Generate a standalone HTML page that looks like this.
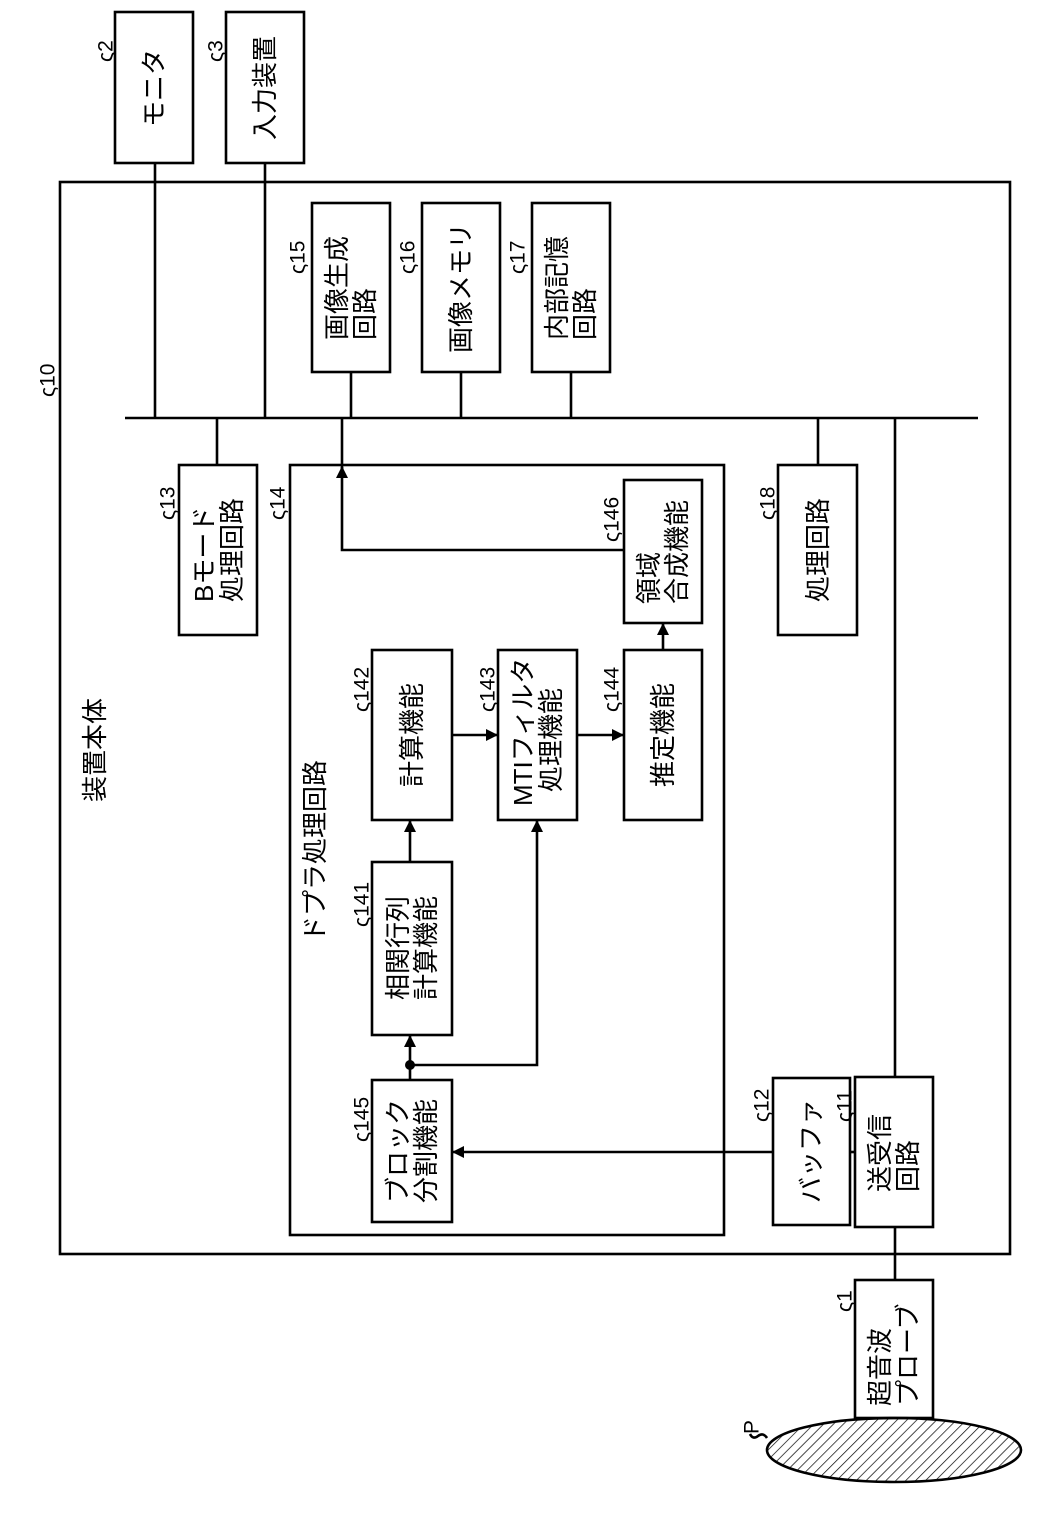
<!DOCTYPE html>
<html><head><meta charset="utf-8"><style>
html,body{margin:0;padding:0;background:#fff}
svg text{font-family:"Liberation Sans","Noto Sans CJK JP",sans-serif;fill:#000}
.t{font-size:26px}
.r{font-size:21px}
</style></head><body>
<svg width="1039" height="1512" viewBox="0 0 1039 1512" xmlns="http://www.w3.org/2000/svg">
<defs>
<marker id="a" markerWidth="12" markerHeight="12" refX="11" refY="6" orient="auto" markerUnits="userSpaceOnUse"><path d="M0,0 L12,6 L0,12 z" fill="#000"/></marker>
<pattern id="h" width="7" height="7" patternUnits="userSpaceOnUse" patternTransform="rotate(45)"><line x1="0" y1="0" x2="0" y2="7" stroke="#000" stroke-width="1.4"/></pattern>
</defs>
<g fill="none" stroke="#000" stroke-width="2.6">
<rect x="115" y="12" width="78" height="151" fill="#fff"/>
<rect x="226" y="12" width="78" height="151" fill="#fff"/>
<rect x="60" y="182" width="950" height="1072"/>
<rect x="312" y="203" width="78" height="169"/>
<rect x="422" y="203" width="78" height="169"/>
<rect x="532" y="203" width="78" height="169"/>
<rect x="179" y="465" width="78" height="170"/>
<rect x="290" y="465" width="434" height="770"/>
<rect x="778" y="465" width="79" height="170"/>
<rect x="624" y="480" width="78" height="143"/>
<rect x="372" y="650" width="80" height="170"/>
<rect x="498" y="650" width="79" height="170"/>
<rect x="624" y="650" width="78" height="170"/>
<rect x="372" y="862" width="80" height="173"/>
<rect x="372" y="1080" width="80" height="142"/>
<rect x="773" y="1078" width="77" height="147"/>
<rect x="855" y="1077" width="78" height="150"/>
<rect x="855" y="1280" width="78" height="138" fill="#fff"/>
<line x1="125" y1="418" x2="978" y2="418"/>
<line x1="155" y1="163" x2="155" y2="418"/>
<line x1="265" y1="163" x2="265" y2="418"/>
<line x1="351" y1="372" x2="351" y2="418"/>
<line x1="461" y1="372" x2="461" y2="418"/>
<line x1="571" y1="372" x2="571" y2="418"/>
<line x1="217" y1="418" x2="217" y2="465"/>
<line x1="818" y1="418" x2="818" y2="465"/>
<line x1="895" y1="418" x2="895" y2="1077"/>
<line x1="895" y1="1227" x2="895" y2="1280"/>
<line x1="342" y1="418" x2="342" y2="470"/>
<polyline points="624,550 342,550 342,467" marker-end="url(#a)"/>
<line x1="452" y1="735" x2="497" y2="735" marker-end="url(#a)"/>
<line x1="577" y1="735" x2="623" y2="735" marker-end="url(#a)"/>
<line x1="663" y1="650" x2="663" y2="624" marker-end="url(#a)"/>
<line x1="410" y1="862" x2="410" y2="821" marker-end="url(#a)"/>
<line x1="410" y1="1080" x2="410" y2="1036" marker-end="url(#a)"/>
<polyline points="410,1065 537,1065 537,821" marker-end="url(#a)"/>
<line x1="855" y1="1152" x2="850" y2="1152"/>
<line x1="773" y1="1152" x2="453" y2="1152" marker-end="url(#a)"/>
<ellipse cx="894" cy="1450" rx="127" ry="32" fill="url(#h)"/>
<path d="M767,1438 q-4,-6 -9,-2 q-5,4 -8,-2"/>
</g>
<circle cx="410" cy="1065" r="5" fill="#000"/>
<g class="t" dominant-baseline="central">
<text text-anchor="middle" transform="translate(154,88) rotate(-90)">モニタ</text>
<text text-anchor="middle" transform="translate(265,88) rotate(-90)">入力装置</text>
<text transform="translate(337,340) rotate(-90)">画像生成</text>
<text transform="translate(365,340) rotate(-90)">回路</text>
<text text-anchor="middle" transform="translate(461,288) rotate(-90)">画像メモリ</text>
<text transform="translate(557,340) rotate(-90)">内部記憶</text>
<text transform="translate(585,340) rotate(-90)">回路</text>
<text transform="translate(204,602) rotate(-90)">Bモード</text>
<text transform="translate(232,602) rotate(-90)">処理回路</text>
<text text-anchor="middle" transform="translate(818,550) rotate(-90)">処理回路</text>
<text transform="translate(649,604) rotate(-90)">領域</text>
<text transform="translate(677,604) rotate(-90)">合成機能</text>
<text text-anchor="middle" transform="translate(412,735) rotate(-90)">計算機能</text>
<text transform="translate(523,806) rotate(-90)">MTIフィルタ</text>
<text transform="translate(551,792) rotate(-90)">処理機能</text>
<text text-anchor="middle" transform="translate(663,735) rotate(-90)">推定機能</text>
<text text-anchor="middle" transform="translate(398,948) rotate(-90)">相関行列</text>
<text text-anchor="middle" transform="translate(426,948) rotate(-90)">計算機能</text>
<text transform="translate(398,1203) rotate(-90)">ブロック</text>
<text transform="translate(426,1203) rotate(-90)">分割機能</text>
<text text-anchor="middle" transform="translate(811,1151) rotate(-90)">バッファ</text>
<text transform="translate(880,1192) rotate(-90)">送受信</text>
<text transform="translate(908,1192) rotate(-90)">回路</text>
<text transform="translate(880,1406) rotate(-90)">超音波</text>
<text transform="translate(908,1406) rotate(-90)">プローブ</text>
<text transform="translate(95,802) rotate(-90)">装置本体</text>
<text transform="translate(315,942) rotate(-90)">ドプラ処理回路</text>
</g>
<g class="r" dominant-baseline="central">
<text transform="translate(106,62) rotate(-90)">ς2</text>
<text transform="translate(216,62) rotate(-90)">ς3</text>
<text transform="translate(48,397) rotate(-90)">ς10</text>
<text transform="translate(298,274) rotate(-90)">ς15</text>
<text transform="translate(408,274) rotate(-90)">ς16</text>
<text transform="translate(518,274) rotate(-90)">ς17</text>
<text transform="translate(168,520) rotate(-90)">ς13</text>
<text transform="translate(278,520) rotate(-90)">ς14</text>
<text transform="translate(768,520) rotate(-90)">ς18</text>
<text transform="translate(612,542) rotate(-90)">ς146</text>
<text transform="translate(362,712) rotate(-90)">ς142</text>
<text transform="translate(488,712) rotate(-90)">ς143</text>
<text transform="translate(612,712) rotate(-90)">ς144</text>
<text transform="translate(362,927) rotate(-90)">ς141</text>
<text transform="translate(362,1142) rotate(-90)">ς145</text>
<text transform="translate(762,1122) rotate(-90)">ς12</text>
<text transform="translate(845,1122) rotate(-90)">ς11</text>
<text transform="translate(845,1312) rotate(-90)">ς1</text>
<text transform="translate(752,1434) rotate(-90)">P</text>
</g>
</svg>
</body></html>
